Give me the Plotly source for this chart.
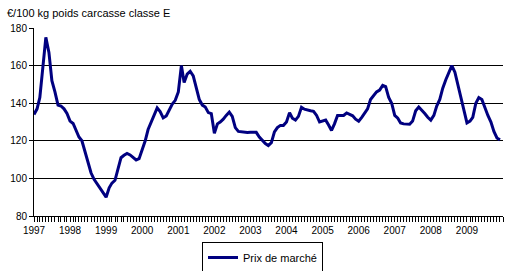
import pandas as pd
import plotly.graph_objects as go

months = pd.date_range("1997-01-01", "2009-12-01", freq="MS")

prix_1997 = [134, 137, 143, 160, 175, 167, 152, 146, 139, 138.5, 137, 134.5]
prix_1998 = [130.5, 129.2, 125.5, 122, 120, 114.5, 109, 103, 99.5, 97, 95, 92.5]
prix_1999 = [90, 95, 97.5, 99, 105, 111, 112.3, 113.3, 112.5, 111, 109.8, 110.5]
prix_2000 = [115, 120, 126, 130, 134.5, 137.5, 135.5, 132.2, 133.2, 136.2, 139.5, 141.5]
prix_2001 = [146, 160, 151, 155.5, 157, 154.5, 149, 142, 139, 138, 135, 134.5]
prix_2002 = [124, 129, 130, 131.5, 133.5, 135.3, 133, 127, 125, 124.7, 124.5, 124.4]
prix_2003 = [124.5, 124.7, 124.5, 122, 120, 118.5, 117.5, 119, 124.7, 127, 128.2, 128.2]
prix_2004 = [130, 135, 132, 131, 133, 137.8, 136.8, 136.2, 136, 135.7, 133.5, 130]
prix_2005 = [130.5, 131, 128.5, 125.5, 129, 133.5, 133.5, 133.5, 134.8, 134, 133.3, 131.5]
prix_2006 = [130.4, 132.5, 134.8, 137, 142, 144, 146, 147, 149.5, 148.8, 143, 140]
prix_2007 = [133.5, 132, 129.5, 129, 129, 128.8, 130.5, 136, 138, 136.5, 134.5, 132.5]
prix_2008 = [131, 133.5, 138.5, 142, 148, 152.5, 156.5, 160, 156.5, 150, 144, 137]
prix_2009 = [129.5, 130.5, 132.5, 140, 143, 142, 137.5, 133.5, 130, 125, 121.5, 120.5]

prix = (prix_1997 + prix_1998 + prix_1999 + prix_2000 + prix_2001 + prix_2002 +
        prix_2003 + prix_2004 + prix_2005 + prix_2006 + prix_2007 + prix_2008 + prix_2009)

y_ticks = [80, 100, 120, 140, 160, 180]
x_tick_dates = pd.date_range("1997-01-01", "2009-01-01", freq="YS")
x_tick_labels = [str(d.year) for d in x_tick_dates]
title_text = "€/100 kg poids carcasse classe E"
series_name = "Prix de marché"

W, H = 514, 271
FONT = "Liberation Sans, Arial, sans-serif"

fig = go.Figure()
fig.add_trace(go.Scatter(
    x=months, y=prix, mode="lines", name=series_name,
    line=dict(color="#000080", width=3),
))

fig.update_layout(
    width=W, height=H,
    margin=dict(l=34, r=11, t=27.5, b=55, autoexpand=False),
    paper_bgcolor="white", plot_bgcolor="white",
    font=dict(family=FONT, size=10, color="black"),
    showlegend=True,
    title=dict(text=title_text, xref="container", yref="container",
               x=7 / W, xanchor="left", y=1 - 13 / H, yanchor="middle",
               font=dict(size=11, family=FONT, color="black")),
    legend=dict(xref="container", yref="container", orientation="h",
                x=202 / W, xanchor="left", y=1 - 242 / H, yanchor="top",
                bordercolor="black", borderwidth=1, bgcolor="white",
                font=dict(size=11, family=FONT, color="black")),
)

fig.update_xaxes(
    type="date",
    range=["1997-01-01", "2010-01-01"],
    tickvals=x_tick_dates, ticktext=x_tick_labels, tickangle=0,
    ticks="outside", ticklen=5, tickcolor="black", tickwidth=1,
    showline=True, linecolor="black", linewidth=1,
    showgrid=False, zeroline=False,
    minor=dict(dtick="M1", tick0="1997-01-01", ticks="outside", ticklen=5,
               tickcolor="black", tickwidth=1, showgrid=False),
)

fig.update_yaxes(
    range=[80, 180], tickvals=y_ticks,
    ticks="outside", ticklen=4, tickcolor="black",
    showline=True, linecolor="black", linewidth=1,
    showgrid=True, gridcolor="black", gridwidth=1,
    zeroline=False,
)

fig.write_html("out.html")
